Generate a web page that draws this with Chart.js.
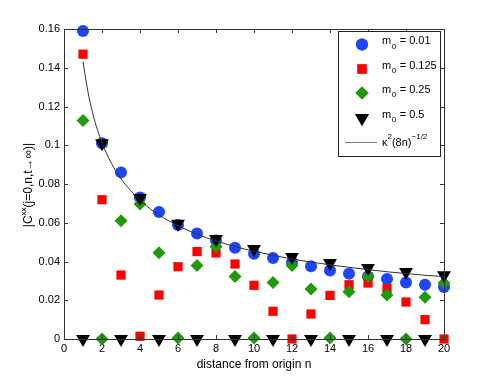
<!DOCTYPE html>
<html>
<head>
<meta charset="utf-8">
<script src="https://cdn.jsdelivr.net/npm/chart.js@4"></script>
<style>
  html, body { margin: 0; padding: 0; background: #fff; }
  #wrap { width: 491px; height: 382px; }
</style>
</head>
<body>
<div id="wrap"><canvas id="chart"></canvas></div>
<script>
// distance from origin n
const nValues = [1, 2, 3, 4, 5, 6, 7, 8, 9, 10, 11, 12, 13, 14, 15, 16, 17, 18, 19, 20];

// |C^xx|, one array per m0
const m001 = [0.159, 0.101, 0.086, 0.073, 0.0655, 0.0588, 0.0544, 0.0509, 0.0471, 0.044,
              0.0418, 0.0396, 0.0375, 0.0354, 0.0337, 0.0323, 0.031, 0.0292, 0.028, 0.0268];
const m0125 = [0.147, 0.0719, 0.033, 0.0014, 0.0227, 0.0373, 0.0451, 0.0444, 0.0387, 0.0277,
               0.0143, 0, 0.0129, 0.0225, 0.028, 0.0289, 0.026, 0.0191, 0.010, 0];
const m025 = [0.1128, 0, 0.061, 0.0697, 0.0445, 0.0005, 0.038, 0.0478, 0.0322, 0.0005,
              0.0292, 0.038, 0.0258, 0.0005, 0.0244, 0.0323, 0.0227, 0, 0.0215, 0.0289];
const m05 = [0, 0.101, 0, 0.0728, 0, 0.0595, 0, 0.0516, 0, 0.0464,
             0, 0.0423, 0, 0.0392, 0, 0.0366, 0, 0.0346, 0, 0.0329];

// the thin reference curve kappa^2 (8n)^-1/2
const curveN = [1, 1.25, 1.5, 1.75, 2, 2.5, 3, 4, 5, 6, 7, 8, 9, 10, 11, 12, 13, 14, 15, 16, 17, 18, 19, 20];
const curveVals = [0.1432, 0.1281, 0.1169, 0.1083, 0.1013, 0.0906, 0.0827, 0.0716, 0.064, 0.0585,
                   0.0541, 0.0506, 0.0477, 0.0453, 0.0432, 0.0413, 0.0397, 0.0383, 0.037, 0.0358,
                   0.0347, 0.0338, 0.0329, 0.0322];

const xTicks = [0, 2, 4, 6, 8, 10, 12, 14, 16, 18, 20];
const yTicks = [0, 0.02, 0.04, 0.06, 0.08, 0.1, 0.12, 0.14, 0.16];

const legendLabels = ['0.01', '0.125', '0.25', '0.5'];

const FONT = '"Liberation Sans", Arial, sans-serif';
const toPts = (xs, ys) => xs.map((x, i) => ({ x: x, y: ys[i] }));

const markerSets = [
  { data: m001, color: '#1f45ff', style: 'circle', radius: 6, rotation: 0, order: 4 },
  { data: m0125, color: '#ff0000', style: 'rect', radius: 6.5, rotation: 0, order: 3 },
  { data: m025, color: '#1e9a0a', style: 'rectRot', radius: 6.5, rotation: 0, order: 2 },
  { data: m05, color: '#000000', style: 'triangle', radius: 8, rotation: 180, order: 1 }
];

const datasets = markerSets.map((s, i) => ({
  label: 'm0 = ' + legendLabels[i],
  data: toPts(nValues, s.data),
  showLine: false,
  pointStyle: s.style,
  pointRadius: s.radius,
  pointRotation: s.rotation,
  pointBackgroundColor: s.color,
  pointBorderColor: s.color,
  pointBorderWidth: 0,
  order: s.order,
  clip: false
}));

datasets.push({
  label: 'curve',
  data: toPts(curveN, curveVals),
  showLine: true,
  borderColor: '#333',
  borderWidth: 1,
  pointRadius: 0,
  cubicInterpolationMode: 'monotone',
  order: 0
});

// frame, inward ticks, legend box and axis titles
const decor = {
  id: 'decor',
  afterDatasetsDraw(chart) {
    const ctx = chart.ctx;
    const a = chart.chartArea;
    const xs = chart.scales.x, ys = chart.scales.y;
    ctx.save();
    ctx.strokeStyle = '#333';
    ctx.lineWidth = 1;
    ctx.beginPath();
    ctx.rect(Math.round(a.left) + 0.5, Math.round(a.top) + 0.5,
             Math.round(a.right - a.left), Math.round(a.bottom - a.top));
    const tl = 4;
    xTicks.forEach(v => {
      const px = Math.round(xs.getPixelForValue(v)) + 0.5;
      ctx.moveTo(px, a.bottom); ctx.lineTo(px, a.bottom - tl);
      ctx.moveTo(px, a.top); ctx.lineTo(px, a.top + tl);
    });
    yTicks.forEach(v => {
      const py = Math.round(ys.getPixelForValue(v)) + 0.5;
      ctx.moveTo(a.left, py); ctx.lineTo(a.left + tl, py);
      ctx.moveTo(a.right, py); ctx.lineTo(a.right - tl, py);
    });
    ctx.stroke();

    // legend
    const bx = 338, by = 31, bw = 102, bh = 125;
    ctx.fillStyle = '#fff';
    ctx.fillRect(bx, by, bw, bh);
    ctx.strokeStyle = '#222';
    ctx.strokeRect(bx + 0.5, by + 0.5, bw, bh);
    const rows = [44.5, 69, 93, 118];
    markerSets.forEach((s, i) => {
      ctx.fillStyle = s.color;
      ctx.strokeStyle = s.color;
      Chart.helpers.drawPoint(ctx, {
        pointStyle: s.style, radius: s.radius, rotation: s.rotation, borderWidth: 0
      }, 362, rows[i]);
      ctx.fill();
      ctx.fillStyle = '#000';
      ctx.textBaseline = 'middle';
      ctx.textAlign = 'left';
      ctx.font = '11px ' + FONT;
      ctx.fillText('m', 382, rows[i] - 3.5);
      const mw = ctx.measureText('m').width;
      ctx.font = '8px ' + FONT;
      ctx.fillText('0', 382 + mw + 0.5, rows[i] + 2);
      const zw = ctx.measureText('0').width;
      ctx.font = '11px ' + FONT;
      ctx.fillText(' = ' + legendLabels[i], 382 + mw + zw + 1, rows[i] - 3.5);
    });
    ctx.strokeStyle = '#777';
    ctx.beginPath();
    ctx.moveTo(345, 142.5); ctx.lineTo(377, 142.5);
    ctx.stroke();
    ctx.fillStyle = '#000';
    let tx = 382;
    ctx.font = '11px ' + FONT;
    ctx.fillText('\u03ba', tx, 143); tx += ctx.measureText('\u03ba').width;
    ctx.font = '8px ' + FONT;
    ctx.fillText('2', tx, 137); tx += ctx.measureText('2').width;
    ctx.font = '11px ' + FONT;
    ctx.fillText('(8n)', tx, 143); tx += ctx.measureText('(8n)').width;
    ctx.font = '8px ' + FONT;
    ctx.fillText('\u22121/2', tx, 137);
    ctx.restore();
  },
  afterDraw(chart) {
    const ctx = chart.ctx;
    const a = chart.chartArea;
    ctx.save();
    ctx.fillStyle = '#000';
    ctx.textBaseline = 'middle';
    ctx.textAlign = 'center';
    ctx.font = '12px ' + FONT;
    ctx.fillText('distance from origin n', (a.left + a.right) / 2, 365);

    // y title with superscript xx, rotated
    ctx.translate(29, 185);
    ctx.rotate(-Math.PI / 2);
    const p1 = '|C', p2 = 'xx', p3 = '(j=0,n,t\u2192\u221e)|';
    ctx.font = '12px ' + FONT;
    const w1 = ctx.measureText(p1).width, w3 = ctx.measureText(p3).width;
    ctx.font = '8px ' + FONT;
    const w2 = ctx.measureText(p2).width;
    let x0 = -(w1 + w2 + w3) / 2;
    ctx.textAlign = 'left';
    ctx.font = '12px ' + FONT;
    ctx.fillText(p1, x0, 0);
    ctx.font = '8px ' + FONT;
    ctx.fillText(p2, x0 + w1, -5);
    ctx.font = '12px ' + FONT;
    ctx.fillText(p3, x0 + w1 + w2, 0);
    ctx.restore();
  }
};

new Chart(document.getElementById('chart'), {
  type: 'scatter',
  data: { datasets: datasets },
  options: {
    responsive: true,
    maintainAspectRatio: false,
    animation: false,
    layout: { padding: { left: 0, right: 47, top: 29, bottom: 0 } },
    plugins: { legend: { display: false }, tooltip: { enabled: false } },
    scales: {
      x: {
        type: 'linear', min: 0, max: 20,
        afterFit: s => { s.height = 43; },
        afterBuildTicks: s => { s.ticks = xTicks.map(v => ({ value: v })); },
        grid: { display: false, drawTicks: false },
        border: { display: false },
        ticks: { color: '#000', padding: 3, maxRotation: 0, font: { size: 11, family: FONT } }
      },
      y: {
        type: 'linear', min: 0, max: 0.16,
        afterFit: s => { s.width = 64; },
        afterBuildTicks: s => { s.ticks = yTicks.map(v => ({ value: v })); },
        grid: { display: false, drawTicks: false },
        border: { display: false },
        ticks: {
          color: '#000', padding: 4, font: { size: 11, family: FONT },
          callback: v => String(+v.toFixed(2))
        }
      }
    }
  },
  plugins: [decor]
});
</script>
</body>
</html>
